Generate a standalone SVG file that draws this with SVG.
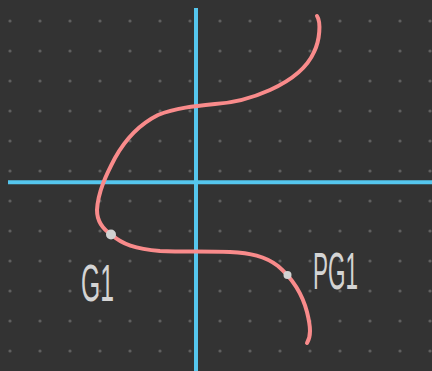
<svg xmlns="http://www.w3.org/2000/svg" width="432" height="371" viewBox="0 0 432 371">
<defs>
<pattern id="dots" x="0" y="0" width="30" height="30" patternUnits="userSpaceOnUse">
<circle cx="10" cy="21" r="1.6" fill="#606060"/>
</pattern>
<style>
.axis{stroke:#55c6ee;stroke-width:4;fill:none}
.curve{stroke:#f98b8b;stroke-width:4;fill:none;stroke-linecap:round;stroke-linejoin:round}
.pt{fill:#d2d2d2}
.lbl{font-family:"Liberation Sans",Arial,sans-serif;fill:#d4d4d4;font-size:52px}
</style>
</defs>
<rect width="432" height="371" fill="#333333"/>
<rect width="432" height="371" fill="url(#dots)"/>
<g id="axes">
<line class="axis" x1="196" y1="8" x2="196" y2="371"/>
<line class="axis" x1="8" y1="182.3" x2="432" y2="182.3"/>
</g>
<g id="connectors">
<path class="curve" d="M317,16 C321,22 320,40 314,52 C307,68 292,80 270,90 C250,99 232,103 215,104 C195,106 175,108 158,115 C140,124 125,140 115,158 C106,175 98,192 97,210 C97,222 104,230 112,235 C122,244 135,249 160,251 C185,252 205,251 230,252 C250,253 265,256 278,266 C292,278 302,293 307,312 C311,328 311,336 307,343"/>
</g>
<g id="G1">
<circle class="pt" cx="111" cy="234.5" r="5"/>
<text class="lbl" x="81" y="301" textLength="33" lengthAdjust="spacingAndGlyphs">G1</text>
</g>
<g id="PG1">
<circle class="pt" cx="287.5" cy="275" r="4"/>
<text class="lbl" x="313" y="289" textLength="45" lengthAdjust="spacingAndGlyphs">PG1</text>
</g>
</svg>
